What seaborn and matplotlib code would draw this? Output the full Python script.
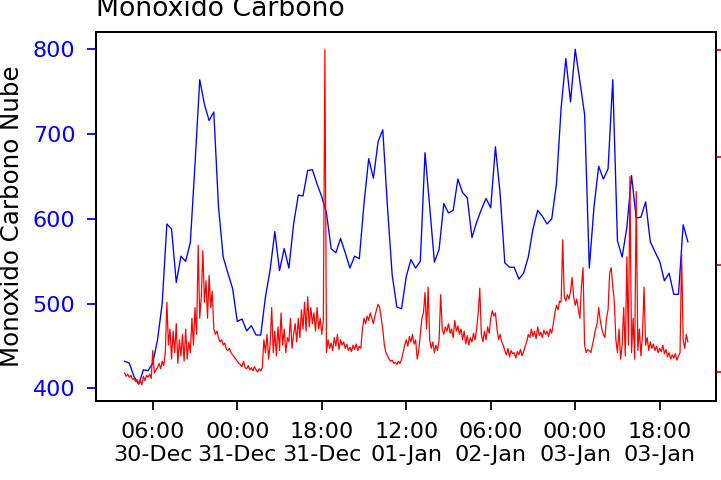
import pandas as pd
import seaborn as sns
import matplotlib
matplotlib.use("Agg")
import matplotlib.pyplot as plt
import matplotlib.dates as mdates

# hourly cloud CO (blue), 30-Dec 00:00 -> 04-Jan 00:00
nube = [432, 430, 414, 405, 422, 421, 430, 457, 500, 594, 588, 525,
        556, 550, 572, 665, 764, 735, 716, 726, 614, 555, 536, 518,
        479, 482, 468, 474, 463, 463, 508, 540, 585, 539, 565, 542,
        594, 628, 627, 657, 658, 641, 626, 607, 565, 560, 577, 560,
        542, 556, 553, 618, 671, 648, 691, 705, 614, 534, 496, 494,
        532, 552, 542, 550, 678, 614, 549, 564, 618, 607, 610, 647,
        631, 625, 578, 596, 611, 624, 613, 685, 630, 548, 543, 543,
        529, 536, 555, 588, 610, 603, 594, 600, 641, 731, 789, 738,
        800, 762, 723, 542, 614, 662, 647, 659, 764, 574, 555, 590,
        651, 601, 602, 620, 573, 561, 550, 527, 536, 511, 511, 593,
        573]

# ground CO (red), every 20 min
suelo = [99, 96, 98, 95, 97, 93, 94, 91, 93, 89, 92, 88,
         96, 92, 97, 95, 98, 94, 120, 99, 102, 104, 108, 103,
         110, 106, 118, 165, 125, 140, 112, 138, 118, 145, 108, 130,
         115, 135, 110, 140, 112, 128, 118, 150, 125, 160, 135, 218,
         150, 170, 213, 165, 185, 150, 190, 160, 175, 140, 135, 138,
         132, 128, 130, 125, 127, 121, 120, 122, 118, 116, 114, 112,
         110, 108, 107, 105, 110, 104, 103, 106, 102, 104, 101, 105,
         102, 100, 103, 101, 104, 130, 118, 135, 112, 125, 160, 118,
         138, 115, 142, 120, 155, 125, 140, 118, 132, 128, 150, 122,
         135, 145, 128, 150, 132, 158, 140, 165, 138, 170, 142, 160,
         145, 155, 138, 160, 140, 150, 135, 148, 400, 118, 130, 122,
         127, 120, 132, 124, 135, 121, 130, 125, 128, 122, 126, 120,
         123, 119, 125, 121, 126, 120, 124, 122, 140, 150, 145, 152,
         148, 155, 150, 145, 152, 158, 163, 160, 150, 140, 125, 118,
         115, 112, 110, 111, 108, 109, 107, 110, 108, 112, 118, 125,
         130, 124, 133, 128, 135, 126, 130, 112, 120, 135, 150, 155,
         174, 140, 179, 130, 122, 128, 118, 125, 120, 130, 172, 140,
         135, 142, 138, 145, 136, 140, 132, 148, 138, 143, 135, 140,
         130, 138, 126, 134, 125, 132, 128, 136, 130, 140, 155, 178,
         135, 128, 138, 130, 142, 136, 150, 157, 152, 155, 140, 130,
         135, 128, 125, 120, 116, 122, 114, 120, 117, 118, 113, 119,
         116, 121, 115, 119, 124, 128, 135, 132, 140, 133, 138, 131,
         142, 134, 137, 132, 139, 135, 138, 133, 140, 136, 145, 155,
         162, 158, 166, 165, 223, 170, 166, 172, 168, 175, 188, 170,
         162, 168, 158, 150, 180, 197, 125, 118, 121, 120, 118, 125,
         132, 140, 145, 160, 148, 140, 135, 132, 150, 158, 192, 197,
         180, 165, 130, 118, 140, 112, 125, 160, 115, 207, 125, 282,
         118, 150, 112, 268, 120, 140, 115, 135, 179, 125, 132, 120,
         128, 122, 126, 120, 124, 118, 122, 119, 125, 117, 121, 114,
         118, 112, 116, 113, 117, 111, 115, 118, 210, 130, 122, 135,
         128]

xticks = ["2019-12-30 06:00", "2019-12-31 00:00", "2019-12-31 18:00",
          "2020-01-01 12:00", "2020-01-02 06:00", "2020-01-03 00:00",
          "2020-01-03 18:00"]

df_nube = pd.DataFrame({"fecha": pd.date_range("2019-12-30", periods=len(nube), freq="h"),
                        "co": nube})
df_suelo = pd.DataFrame({"fecha": pd.date_range("2019-12-30", periods=len(suelo), freq="20min"),
                         "co": suelo})

fig = plt.figure(figsize=(721 / 160, 480 / 160), dpi=160)
ax = fig.add_axes([0.1338, 0.1646, 0.8593, 0.7677])

sns.lineplot(x="fecha", y="co", data=df_nube, ax=ax, color="blue", linewidth=0.6, estimator=None)
ax.set_ylabel("Monoxido Carbono Nube", fontsize=11)
ax.set_xlabel("")
ax.tick_params(axis="y", colors="blue", length=4, pad=5.5)
ax.tick_params(axis="x", length=4, pad=5.5)
ax.set_title("Monoxido Carbono", loc="left", pad=7.5)

ax2 = ax.twinx()
sns.lineplot(x="fecha", y="co", data=df_suelo, ax=ax2, color="red", linewidth=0.55, estimator=None)
ax2.set_ylabel("")
ax2.set_ylim(73, 416)
ax2.set_yticks([100, 200, 300, 400])
ax2.tick_params(axis="y", colors="red", length=4, pad=5.5)

ax.set_xticks(pd.to_datetime(xticks))
ax.xaxis.set_major_formatter(mdates.DateFormatter("%H:%M\n%d-%b"))
ax.set_xlabel("")

fig.savefig("out.png", dpi=160)
